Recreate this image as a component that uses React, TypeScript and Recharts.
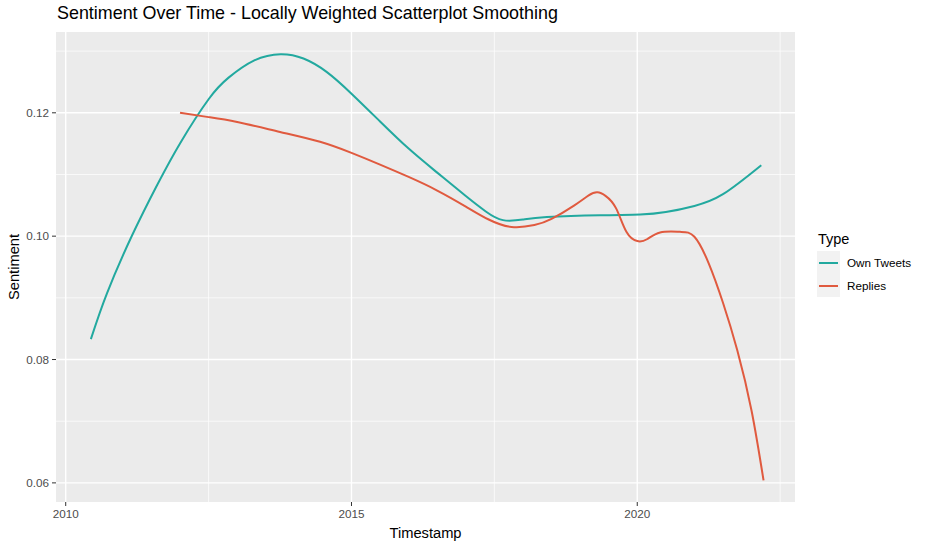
import { LineChart, Line, XAxis, YAxis, ReferenceLine, ReferenceArea, Legend } from 'recharts';

// LOESS curves (decimal years)
const ownYears = [2010.44, 2010.72, 2011.16, 2011.6, 2012.01, 2012.5, 2012.85, 2013.3, 2013.76, 2014.16, 2014.57, 2015.0, 2015.5, 2016.0, 2016.5, 2017.0, 2017.35, 2017.65, 2018.0, 2018.42, 2019.35, 2020.05, 2020.5, 2021.0, 2021.5, 2022.17];
const ownValues = [0.0833, 0.0907, 0.1001, 0.1083, 0.1152, 0.1222, 0.1257, 0.1285, 0.1295, 0.1288, 0.1266, 0.1231, 0.1186, 0.1142, 0.1103, 0.1065, 0.104, 0.1026, 0.1027, 0.1031, 0.1034, 0.1035, 0.1039, 0.1049, 0.1068, 0.1115];

const replyYears = [2012.0, 2012.5, 2013.0, 2013.75, 2014.45, 2015.0, 2015.5, 2016.0, 2016.5, 2017.0, 2017.4, 2017.8, 2018.2, 2018.5, 2018.9, 2019.15, 2019.3, 2019.45, 2019.63, 2019.81, 2020.0, 2020.17, 2020.4, 2020.75, 2021.0, 2021.25, 2021.5, 2021.75, 2022.0, 2022.21];
const replyValues = [0.12, 0.1193, 0.1185, 0.1169, 0.1153, 0.1135, 0.1116, 0.1096, 0.1074, 0.1048, 0.1027, 0.1015, 0.1018, 0.1028, 0.105, 0.1066, 0.1071, 0.1065, 0.1045, 0.1007, 0.0992, 0.0995, 0.1006, 0.1007, 0.0999, 0.0956, 0.0892, 0.0815, 0.0717, 0.0604];

const xTicks = [2010, 2015, 2020];
const xMinor = [2012.5, 2017.5, 2022.5];
const yTicks = [0.06, 0.08, 0.1, 0.12];
const yMinor = [0.07, 0.09, 0.11, 0.13];

const X_DOMAIN: [number, number] = [2009.83, 2022.76];
const Y_DOMAIN: [number, number] = [0.0569, 0.1331];

const TEAL = '#22A99F';
const RED = '#E05A3F';
const FONT = '"Liberation Sans", Arial, sans-serif';

const ownData = ownYears.map((t, i) => ({ t, v: ownValues[i] }));
const replyData = replyYears.map((t, i) => ({ t, v: replyValues[i] }));

const series = [
  { name: 'Own Tweets', color: TEAL },
  { name: 'Replies', color: RED },
];

function TypeLegend() {
  return (
    <div style={{ fontFamily: FONT, color: '#000' }}>
      <div style={{ fontSize: 14.5, marginBottom: 4, marginLeft: 1 }}>Type</div>
      {series.map(s => (
        <div key={s.name} style={{ display: 'flex', alignItems: 'center', height: 23 }}>
          <div style={{ width: 23, height: 23, background: '#F2F2F2', position: 'relative' }}>
            <div style={{ position: 'absolute', left: 2, right: 2, top: 10.5, height: 2, background: s.color }} />
          </div>
          <span style={{ fontSize: 11.7, marginLeft: 7 }}>{s.name}</span>
        </div>
      ))}
    </div>
  );
}

export default function App() {
  return (
    <div style={{ position: 'absolute', left: 0, top: 0, width: 930, height: 547, background: '#fff' }}>
      <div style={{ position: 'absolute', left: 57, top: 3, fontFamily: FONT, fontSize: 17.9, color: '#000', whiteSpace: 'nowrap' }}>
        Sentiment Over Time - Locally Weighted Scatterplot Smoothing
      </div>
      <LineChart width={930} height={547} margin={{ top: 32, right: 135, bottom: 0, left: 0 }}>
        <XAxis
          type="number"
          dataKey="t"
          domain={X_DOMAIN}
          ticks={xTicks}
          allowDataOverflow
          height={45}
          axisLine={false}
          tickLine={{ stroke: '#333' }}
          tickSize={4}
          tickMargin={4}
          tick={{ fill: '#4D4D4D', fontSize: 11.7, fontFamily: FONT }}
          label={{ value: 'Timestamp', position: 'insideBottom', offset: 9, fill: '#000', fontSize: 14.7, fontFamily: FONT }}
        />
        <YAxis
          type="number"
          domain={Y_DOMAIN}
          ticks={yTicks}
          allowDataOverflow
          width={56}
          axisLine={false}
          tickLine={{ stroke: '#333' }}
          tickSize={4}
          tickMargin={3}
          tickFormatter={(v: number) => v.toFixed(2)}
          tick={{ fill: '#4D4D4D', fontSize: 11.7, fontFamily: FONT }}
          label={{ value: 'Sentiment', angle: -90, position: 'insideLeft', offset: 14, fill: '#000', fontSize: 14.7, fontFamily: FONT, style: { textAnchor: 'middle' } }}
        />
        <ReferenceArea x1={X_DOMAIN[0]} x2={X_DOMAIN[1]} y1={Y_DOMAIN[0]} y2={Y_DOMAIN[1]} fill="#EBEBEB" fillOpacity={1} stroke="none" />
        {yMinor.map(v => (
          <ReferenceLine key={`ym${v}`} y={v} stroke="#fff" strokeWidth={0.7} />
        ))}
        {xMinor.map(v => (
          <ReferenceLine key={`xm${v}`} x={v} stroke="#fff" strokeWidth={0.7} />
        ))}
        {yTicks.map(v => (
          <ReferenceLine key={`y${v}`} y={v} stroke="#fff" strokeWidth={1.4} />
        ))}
        {xTicks.map(v => (
          <ReferenceLine key={`x${v}`} x={v} stroke="#fff" strokeWidth={1.4} />
        ))}
        <Line data={ownData} dataKey="v" name="Own Tweets" type="natural" stroke={TEAL} strokeWidth={2} dot={false} isAnimationActive={false} />
        <Line data={replyData} dataKey="v" name="Replies" type="natural" stroke={RED} strokeWidth={2} dot={false} isAnimationActive={false} />
        <Legend
          layout="horizontal"
          verticalAlign="middle"
          content={() => <TypeLegend />}
          wrapperStyle={{ left: 817, top: 231, width: 110 }}
        />
      </LineChart>
    </div>
  );
}
